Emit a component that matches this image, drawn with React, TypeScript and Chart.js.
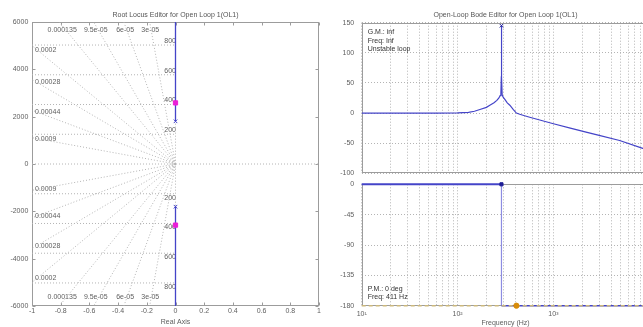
import React, { useEffect, useRef } from 'react';
import { Chart, registerables } from 'chart.js';

Chart.register(...registerables);

const FONT_FAMILY = "'Liberation Sans', Arial, Helvetica, sans-serif";
const TEXT = '#5e5e5e';
const TITLE_COLOR = '#555555';
const NOTE = '#333333';
const BOX = '#9c9c9c';
const GRID = '#b4b4b4';
const BLUE = 'rgb(68,68,200)';
const LIGHT_BLUE = 'rgb(140,140,225)';
const DARK_BLUE = 'rgb(30,30,150)';
const MAGENTA = 'rgb(235,30,215)';
const TAN = 'rgb(205,185,125)';
const ORANGE = 'rgb(215,140,10)';

// ---------------- Root locus ----------------
const rlTitle = 'Root Locus Editor for Open Loop 1(OL1)';
const rlXLabel = 'Real Axis';
const rlXTicks = [-1, -0.8, -0.6, -0.4, -0.2, 0, 0.2, 0.4, 0.6, 0.8, 1];
const rlYTicks = [-6000, -4000, -2000, 0, 2000, 4000, 6000];
const dampTop = [0.000135, 9.5e-5, 6e-5, 3e-5];
const dampTopLabels = ['0.000135', '9.5e-05', '6e-05', '3e-05'];
const dampSide = [0.0002, 0.00028, 0.00044, 0.0009];
const dampSideLabels = ['0.0002', '0.00028', '0.00044', '0.0009'];
const natFreqHz = [200, 400, 600, 800];
const openLoopPoleIm = [1803, -1803];
const closedLoopPoleIm = [2582, -2582];
const locusFarIm = [100000, -100000];

// ---------------- Bode ----------------
const bodeTitle = 'Open-Loop Bode Editor for Open Loop 1(OL1)';
const bodeXLabel = 'Frequency (Hz)';
const bodeGridHz = [
  10, 20, 30, 40, 50, 60, 70, 80, 90,
  100, 200, 300, 400, 500, 600, 700, 800, 900,
  1000, 2000, 3000, 4000, 5000, 6000, 7000, 8000, 9000, 10000,
];
const bodeDecades = [10, 100, 1000, 10000];
const bodeDecadeLabels = ['10¹', '10²', '10³', '10⁴'];
const magTicks = [-100, -50, 0, 50, 100, 150];
const phaseTicks = [-180, -135, -90, -45, 0];

const magFreq = [10, 30, 60, 100, 130, 150, 171, 200, 217, 240, 257, 270, 278, 283, 286, 287, 288, 292, 300, 310, 330, 351, 380, 411, 445, 500, 566, 720, 1000, 1500, 2190, 3000, 4900, 8700, 10000];
const magDb = [0, 0, 0, 0.3, 1.2, 3, 6, 9.5, 12.8, 17, 21, 25, 29, 33, 60, 145, 60, 30, 26, 23, 17, 13, 6, 0, -2, -4.5, -7, -11.5, -17.8, -25, -31.6, -37, -45.5, -59, -62];

const resonanceHz = 287;
const magMarkerDb = 145;
const phaseFreq = [10, 287, 287, 10000];
const phaseDeg = [0, 0, -180, -180];
const phaseRefDeg = -180;
const pmFreqHz = 411;
const pmDeg = -180;

const gmNotes = ['G.M.: inf', 'Freq: Inf', 'Unstable loop'];
const pmNotes = ['P.M.: 0 deg', 'Freq: 411 Hz'];

const font7 = { family: FONT_FAMILY, size: 7, weight: 'normal' as const };

const boxPlugin = {
  id: 'boxFrame',
  beforeDatasetsDraw(chart: any, _a: any, opts: any) {
    const { ctx, chartArea: a } = chart;
    ctx.save();
    ctx.setLineDash([]);
    ctx.strokeStyle = BOX;
    ctx.lineWidth = 1;
    const l = Math.round(a.left) + 0.5;
    const t = Math.round(a.top) + 0.5;
    const r = Math.round(a.right) - 0.5;
    const b = Math.round(a.bottom) - 0.5;
    ctx.strokeRect(l, t, r - l, b - t);
    if (opts && opts.ticks) {
      const xs = chart.scales.x;
      const ys = chart.scales.y;
      const L = 3;
      ctx.beginPath();
      xs.ticks.forEach((tk: any) => {
        const p = Math.round(xs.getPixelForValue(tk.value)) + 0.5;
        ctx.moveTo(p, t); ctx.lineTo(p, t + L);
        ctx.moveTo(p, b); ctx.lineTo(p, b - L);
      });
      ys.ticks.forEach((tk: any) => {
        const p = Math.round(ys.getPixelForValue(tk.value)) + 0.5;
        ctx.moveTo(l, p); ctx.lineTo(l + L, p);
        ctx.moveTo(r, p); ctx.lineTo(r - L, p);
      });
      ctx.stroke();
    }
    ctx.restore();
  },
};

const rlLabelPlugin = {
  id: 'rlLabels',
  beforeDatasetsDraw(chart: any) {
    const { ctx, chartArea: a, scales } = chart;
    const x = scales.x;
    const y = scales.y;
    ctx.save();
    ctx.font = `7px ${FONT_FAMILY}`;
    ctx.fillStyle = TEXT;
    ctx.textBaseline = 'middle';
    ctx.textAlign = 'center';
    dampTop.forEach((z, i) => {
      const s = Math.sqrt(1 - z * z) / z;
      const px = x.getPixelForValue((-y.max * 0.975) / s);
      ctx.fillText(dampTopLabels[i], px, a.top + 8);
      ctx.fillText(dampTopLabels[i], px, a.bottom - 8.5);
    });
    ctx.textAlign = 'left';
    dampSide.forEach((z, i) => {
      const s = Math.sqrt(1 - z * z) / z;
      ctx.fillText(dampSideLabels[i], a.left + 3, y.getPixelForValue(s * 0.965));
      ctx.fillText(dampSideLabels[i], a.left + 3, y.getPixelForValue(-s * 0.965));
    });
    ctx.textAlign = 'right';
    natFreqHz.forEach((f) => {
      const w = 2 * Math.PI * f;
      const px = x.getPixelForValue(0) + 0.5;
      ctx.fillText(String(f), px, y.getPixelForValue(w) - 4);
      ctx.fillText(String(f), px, y.getPixelForValue(-w) + 4);
    });
    ctx.restore();
  },
};

const makeNotePlugin = (id: string, lines: string[], fromBottom: boolean) => ({
  id,
  afterDatasetsDraw(chart: any) {
    const { ctx, chartArea: a } = chart;
    ctx.save();
    ctx.font = `7px ${FONT_FAMILY}`;
    ctx.fillStyle = NOTE;
    ctx.textBaseline = 'middle';
    ctx.textAlign = 'left';
    lines.forEach((txt, i) => {
      const yy = fromBottom
        ? a.bottom - 8.2 - (lines.length - 1 - i) * 8.4
        : a.top + 9.5 + i * 8.5;
      ctx.fillText(txt, a.left + 6, yy);
    });
    ctx.restore();
  },
});

const dotted = (pts: { x: number; y: number }[]) => ({
  data: pts,
  showLine: true,
  borderColor: GRID,
  borderWidth: 1,
  borderDash: [1, 2],
  pointRadius: 0,
  pointHoverRadius: 0,
  fill: false,
});

const setTicks = (vals: number[]) => (s: any) => {
  s.ticks = vals.map((v) => ({ value: v }));
};

const fixSize = (prop: 'width' | 'height', size: number) => (s: any) => {
  s[prop] = size;
  s.paddingTop = 0;
  s.paddingBottom = 0;
  s.paddingLeft = 0;
  s.paddingRight = 0;
};

// adjust layout padding so the plot area lands on the wanted box (canvas px)
const fitArea = (chart: any, target: { left: number; right: number; top: number; bottom: number }) => {
  for (let k = 0; k < 4; k++) {
    const a = chart.chartArea;
    const dl = target.left - a.left;
    const dr = a.right - target.right;
    const dt = target.top - a.top;
    const db = a.bottom - target.bottom;
    if (Math.abs(dl) + Math.abs(dr) + Math.abs(dt) + Math.abs(db) < 0.05) break;
    const p = chart.config.options.layout.padding;
    chart.config.options.layout.padding = {
      left: p.left + dl,
      right: p.right + dr,
      top: p.top + dt,
      bottom: p.bottom + db,
    };
    chart.update('none');
  }
};

export default function App() {
  const rlRef = useRef<HTMLCanvasElement>(null);
  const magRef = useRef<HTMLCanvasElement>(null);
  const phRef = useRef<HTMLCanvasElement>(null);

  useEffect(() => {
    // ---------- Root locus ----------
    const gridSets: any[] = [];
    [...dampTop, ...dampSide].forEach((z) => {
      const s = Math.sqrt(1 - z * z) / z;
      gridSets.push(dotted([{ x: 0, y: 0 }, { x: -1, y: s }]));
      gridSets.push(dotted([{ x: 0, y: 0 }, { x: -1, y: -s }]));
    });
    natFreqHz.forEach((f) => {
      const w = 2 * Math.PI * f;
      gridSets.push(dotted([{ x: -1, y: Math.sqrt(w * w - 1) }, { x: 0, y: w }]));
      gridSets.push(dotted([{ x: -1, y: -Math.sqrt(w * w - 1) }, { x: 0, y: -w }]));
    });
    gridSets.push(dotted([{ x: -1, y: 0 }, { x: 1, y: 0 }]));
    gridSets.push(dotted([{ x: 0, y: locusFarIm[1] }, { x: 0, y: locusFarIm[0] }]));

    const rl = new Chart(rlRef.current as HTMLCanvasElement, {
      type: 'scatter',
      data: {
        datasets: [
          {
            data: closedLoopPoleIm.map((v) => ({ x: 0, y: v })),
            pointStyle: 'rect',
            pointRadius: 3,
            backgroundColor: MAGENTA,
            borderColor: MAGENTA,
            borderWidth: 1,
            showLine: false,
          },
          {
            data: openLoopPoleIm.map((v) => ({ x: 0, y: v })),
            pointStyle: 'crossRot',
            pointRadius: 2.5,
            borderColor: BLUE,
            borderWidth: 1,
            showLine: false,
          },
          ...openLoopPoleIm.map((p, i) => ({
            data: [{ x: 0, y: p }, { x: 0, y: locusFarIm[i] }],
            showLine: true,
            borderColor: BLUE,
            borderWidth: 1.3,
            pointRadius: 0,
          })),
          ...gridSets,
        ] as any,
      },
      options: {
        animation: false,
        responsive: false,
        maintainAspectRatio: false,
        events: [],
        layout: { padding: { left: 0, right: 11, top: 0, bottom: 0 } },
        plugins: {
          legend: { display: false },
          tooltip: { enabled: false },
          title: {
            display: true,
            text: rlTitle,
            fullSize: false,
            color: TITLE_COLOR,
            font: font7,
            padding: { top: 11, bottom: 2.6 },
          },
          boxFrame: { ticks: true },
        } as any,
        scales: {
          x: {
            type: 'linear',
            min: -1,
            max: 1,
            afterBuildTicks: setTicks(rlXTicks),
            afterFit: fixSize('height', 21),
            grid: { display: false, drawTicks: false },
            border: { display: false },
            ticks: {
              color: TEXT,
              font: font7,
              padding: 1,
              maxRotation: 0,
              autoSkip: false,
              callback: (v: any) => String(Math.round(Number(v) * 10) / 10),
            },
            title: { display: true, text: rlXLabel, color: TEXT, font: font7, padding: { top: 0, bottom: 0.5 } },
          },
          y: {
            type: 'linear',
            min: rlYTicks[0],
            max: rlYTicks[rlYTicks.length - 1],
            afterBuildTicks: setTicks(rlYTicks),
            afterFit: fixSize('width', 32),
            grid: { display: false, drawTicks: false },
            border: { display: false },
            ticks: { color: TEXT, font: font7, padding: 3.7, autoSkip: false, callback: (v: any) => String(v) },
          },
        },
      } as any,
      plugins: [rlLabelPlugin, boxPlugin],
    });
    fitArea(rl, { left: 32, right: 319, top: 22, bottom: 306 });

    // ---------- Bode magnitude ----------
    const logX = (showLabels: boolean, height: number) => ({
      type: 'logarithmic',
      min: bodeDecades[0],
      max: bodeDecades[bodeDecades.length - 1],
      afterBuildTicks: setTicks(bodeGridHz),
      afterFit: fixSize('height', height),
      grid: { display: true, drawTicks: false, color: GRID, lineWidth: 1 },
      border: { display: false, dash: [1, 2] },
      ticks: {
        display: showLabels,
        color: TEXT,
        font: font7,
        padding: 4.5,
        maxRotation: 0,
        autoSkip: false,
        callback: (v: any) => {
          const k = bodeDecades.indexOf(Number(v));
          return k >= 0 ? bodeDecadeLabels[k] : '';
        },
      },
      title: showLabels
        ? { display: true, text: bodeXLabel, color: TEXT, font: font7, padding: { top: 0, bottom: 0 } }
        : { display: false },
    });
    const linY = (ticks: number[]) => ({
      type: 'linear',
      min: ticks[0],
      max: ticks[ticks.length - 1],
      afterBuildTicks: setTicks(ticks),
      afterFit: fixSize('width', 41.7),
      grid: { display: true, drawTicks: false, color: GRID, lineWidth: 1 },
      border: { display: false, dash: [1, 2] },
      ticks: { color: TEXT, font: font7, padding: 7.5, autoSkip: false, callback: (v: any) => String(v) },
    });

    const mag = new Chart(magRef.current as HTMLCanvasElement, {
      type: 'scatter',
      data: {
        datasets: [
          {
            data: [{ x: resonanceHz, y: magMarkerDb }],
            pointStyle: 'crossRot',
            pointRadius: 2.5,
            borderColor: DARK_BLUE,
            borderWidth: 1,
            showLine: false,
            clip: 4,
          },
          {
            data: magFreq.map((f, i) => ({ x: f, y: magDb[i] })),
            showLine: true,
            borderColor: BLUE,
            borderWidth: 1.2,
            pointRadius: 0,
          },
        ] as any,
      },
      options: {
        animation: false,
        responsive: false,
        maintainAspectRatio: false,
        events: [],
        layout: { padding: { left: 0, right: 10.7, top: 0, bottom: 6.7 } },
        plugins: {
          legend: { display: false },
          tooltip: { enabled: false },
          title: {
            display: true,
            text: bodeTitle,
            fullSize: false,
            color: TITLE_COLOR,
            font: font7,
            padding: { top: 11, bottom: 3.3 },
          },
        },
        scales: { x: logX(false, 0), y: linY(magTicks) },
      } as any,
      plugins: [makeNotePlugin('gmNotes', gmNotes, false), boxPlugin],
    });
    fitArea(mag, { left: 41.7, right: 329.3, top: 22.7, bottom: 173.3 });

    // ---------- Bode phase ----------
    const ph = new Chart(phRef.current as HTMLCanvasElement, {
      type: 'scatter',
      data: {
        datasets: [
          {
            data: [{ x: pmFreqHz, y: pmDeg }],
            pointStyle: 'circle',
            pointRadius: 2.6,
            backgroundColor: ORANGE,
            borderColor: ORANGE,
            showLine: false,
            clip: 4,
          },
          {
            data: [{ x: resonanceHz, y: phaseDeg[1] }],
            pointStyle: 'rect',
            pointRadius: 2.2,
            backgroundColor: DARK_BLUE,
            borderColor: DARK_BLUE,
            showLine: false,
            clip: 4,
          },
          {
            data: [{ x: bodeDecades[0], y: phaseRefDeg }, { x: bodeDecades[bodeDecades.length - 1], y: phaseRefDeg }],
            showLine: true,
            borderColor: TAN,
            borderWidth: 1.6,
            borderDash: [4, 3],
            pointRadius: 0,
            clip: 4,
          },
          {
            data: phaseFreq.map((f, i) => ({ x: f, y: phaseDeg[i] })),
            showLine: true,
            borderColor: BLUE,
            borderWidth: 1.6,
            pointRadius: 0,
            clip: 4,
            segment: {
              borderColor: (c: any) => (c.p0.parsed.x === c.p1.parsed.x ? LIGHT_BLUE : BLUE),
              borderWidth: (c: any) => (c.p0.parsed.x === c.p1.parsed.x ? 1.2 : c.p0.parsed.y === 0 ? 2 : 1.5),
            },
          },
        ] as any,
      },
      options: {
        animation: false,
        responsive: false,
        maintainAspectRatio: false,
        events: [],
        layout: { padding: { left: 0, right: 10.7, top: 9.3, bottom: 0 } },
        plugins: { legend: { display: false }, tooltip: { enabled: false }, title: { display: false } },
        scales: { x: logX(true, 21.3), y: linY(phaseTicks) },
      } as any,
      plugins: [makeNotePlugin('pmNotes', pmNotes, true), boxPlugin],
    });
    fitArea(ph, { left: 41.7, right: 329.3, top: 9.3, bottom: 130.7 });

    return () => {
      rl.destroy();
      mag.destroy();
      ph.destroy();
    };
  }, []);

  const abs = (left: number, top: number, w: number, h: number): React.CSSProperties => ({
    position: 'absolute',
    left,
    top,
    width: w,
    height: h,
  });

  return (
    <div
      style={{
        position: 'fixed',
        left: 0,
        top: 0,
        width: 643,
        height: 327,
        overflow: 'hidden',
        background: '#ffffff',
      }}
    >
      <canvas ref={rlRef} width={330} height={327} style={abs(0, 0, 330, 327)} />
      <canvas ref={magRef} width={340} height={180} style={abs(320, 0, 340, 180)} />
      <canvas ref={phRef} width={340} height={152} style={abs(320, 175, 340, 152)} />
    </div>
  );
}
